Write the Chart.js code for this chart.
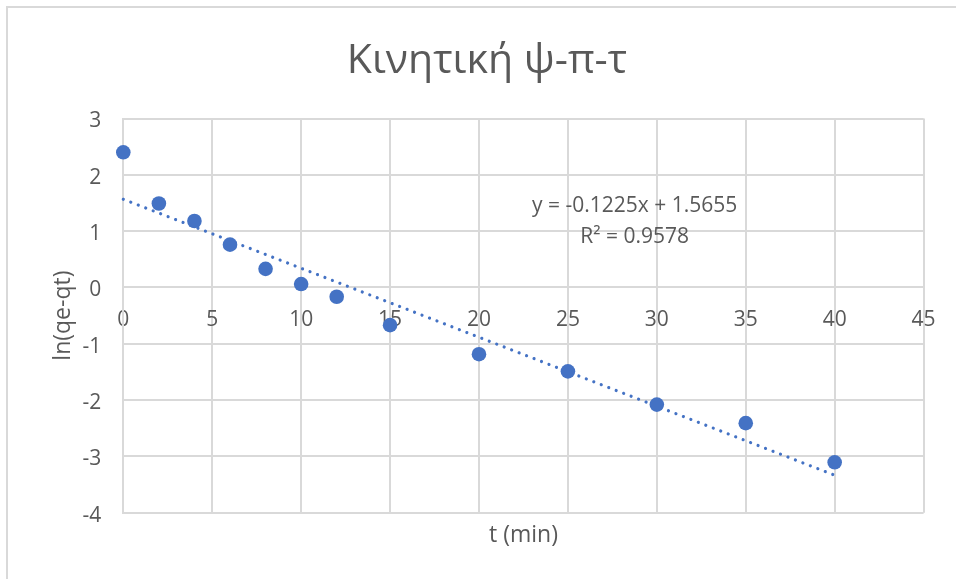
<!DOCTYPE html>
<html>
<head>
<meta charset="utf-8">
<script src="https://cdn.jsdelivr.net/npm/chart.js@4.4.1/dist/chart.umd.min.js"></script>
<style>
  html, body { margin: 0; padding: 0; background: #ffffff; }
  canvas { display: block; }
</style>
</head>
<body>
<canvas id="kinetics" width="956" height="579"></canvas>
<script>
// Pseudo-first-order kinetics: ln(qe-qt) against contact time
const chartTitle = 'Κινητική ψ-π-τ';
const xAxisTitle = 't (min)';
const yAxisTitle = 'ln(qe-qt)';

const timeMin = [0, 2, 4, 6, 8, 10, 12, 15, 20, 25, 30, 35, 40];
const lnQeQt  = [2.40, 1.49, 1.18, 0.76, 0.33, 0.06, -0.165, -0.67, -1.185, -1.49, -2.08, -2.41, -3.105];

const xTickValues = [0, 5, 10, 15, 20, 25, 30, 35, 40, 45];
const yTickValues = [-4, -3, -2, -1, 0, 1, 2, 3];

// Linear trendline as reported on the chart
const fitSlope = -0.1225;
const fitIntercept = 1.5655;
const fitRange = [0, 40];
const fitLabels = ['y = -0.1225x + 1.5655', 'R² = 0.9578'];

const trendPoints = fitRange.map(x => ({ x: x, y: fitSlope * x + fitIntercept }));
const scatterPoints = timeMin.map((t, i) => ({ x: t, y: lnQeQt[i] }));

const TEXT = '#595959';
const GRID = '#d9d9d9';
const BLUE = '#4472c4';
const FONT = "'Open Sans', 'Noto Sans', sans-serif";

// white background and the outer frame of the chart area
const framePlugin = {
  id: 'frame',
  beforeDraw(chart) {
    const { ctx, width, height } = chart;
    ctx.save();
    ctx.fillStyle = '#ffffff';
    ctx.fillRect(0, 0, width, height);
    ctx.strokeStyle = GRID;
    ctx.lineWidth = 2;
    ctx.beginPath();
    ctx.moveTo(7, height);
    ctx.lineTo(7, 7);
    ctx.lineTo(width, 7);
    ctx.stroke();
    ctx.restore();
  }
};

// trendline equation and R² next to the line
const equationPlugin = {
  id: 'equation',
  afterDatasetsDraw(chart) {
    const { ctx, scales } = chart;
    const x = scales.x.getPixelForValue(28.75);
    const rows = [1.47, 0.925];
    ctx.save();
    ctx.font = `21px ${FONT}`;
    ctx.fillStyle = TEXT;
    ctx.textAlign = 'center';
    ctx.textBaseline = 'middle';
    fitLabels.forEach((txt, i) => {
      ctx.fillText(txt, x, scales.y.getPixelForValue(rows[i]) + 1.5);
    });
    ctx.restore();
  }
};

new Chart(document.getElementById('kinetics'), {
  type: 'scatter',
  data: {
    datasets: [
      {
        label: yAxisTitle,
        data: scatterPoints,
        backgroundColor: BLUE,
        borderColor: BLUE,
        pointRadius: 7.3,
        pointHoverRadius: 7.3,
        borderWidth: 0,
        clip: false
      },
      {
        label: 'Linear (' + yAxisTitle + ')',
        type: 'line',
        data: trendPoints,
        borderColor: BLUE,
        borderWidth: 3.2,
        borderDash: [0.01, 8],
        borderCapStyle: 'round',
        pointRadius: 0,
        fill: false,
        tension: 0,
        clip: false
      }
    ]
  },
  options: {
    responsive: false,
    animation: false,
    devicePixelRatio: 1,
    layout: { padding: { left: 47.5, right: 29.5, top: 0, bottom: 0 } },
    plugins: {
      legend: { display: false },
      tooltip: { enabled: false },
      title: {
        display: true,
        text: chartTitle,
        color: TEXT,
        font: { family: FONT, size: 41, weight: 'normal' },
        padding: { top: 36.4, bottom: 32.9 }
      }
    },
    scales: {
      x: {
        type: 'linear',
        position: { y: 0 },
        min: 0,
        max: 45,
        afterBuildTicks(scale) { scale.ticks = xTickValues.map(v => ({ value: v })); },
        grid: { color: GRID, lineWidth: 2, drawTicks: false },
        border: { color: GRID, width: 2 },
        ticks: { color: TEXT, font: { family: FONT, size: 21 }, padding: 20.4, maxRotation: 0 }
      },
      xTitle: {
        type: 'linear',
        position: 'bottom',
        min: 0,
        max: 45,
        grid: { display: false },
        border: { display: false },
        ticks: { display: false },
        title: {
          display: true,
          text: xAxisTitle,
          color: TEXT,
          font: { family: FONT, size: 23 },
          padding: { top: 0, bottom: 30 }
        },
        afterFit(scale) { scale.height = 66.3; }
      },
      y: {
        type: 'linear',
        position: 'left',
        min: -4,
        max: 3,
        afterBuildTicks(scale) { scale.ticks = yTickValues.map(v => ({ value: v })); },
        grid: { color: GRID, lineWidth: 2, drawTicks: false },
        border: { color: GRID, width: 2 },
        ticks: { color: TEXT, font: { family: FONT, size: 21 }, padding: 22, labelOffset: 3 },
        title: {
          display: true,
          text: yAxisTitle,
          color: TEXT,
          font: { family: FONT, size: 23 },
          padding: { top: 2, bottom: 0 }
        },
        afterFit(scale) { scale.width = 75.8; }
      }
    }
  },
  plugins: [framePlugin, equationPlugin]
});
</script>
</body>
</html>
